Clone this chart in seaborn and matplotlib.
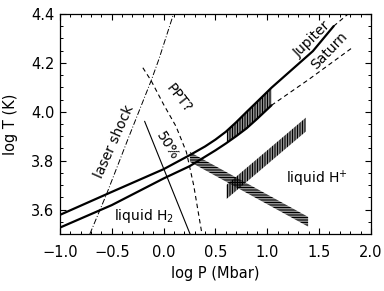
import numpy as np
import matplotlib
matplotlib.use("Agg")
import matplotlib.pyplot as plt
import seaborn as sns

# adiabats (log P [Mbar], log T [K])
jup_p = [-1.0, -0.5, 0.0, 0.25, 0.4, 0.5, 0.6, 0.7, 0.8, 0.9, 1.04, 1.2, 1.44, 1.64]
jup_t = [3.578, 3.672, 3.765, 3.822, 3.858, 3.886, 3.918, 3.957, 3.999, 4.04, 4.098, 4.158, 4.248, 4.35]
jup_ext_p = [1.64, 1.78]
jup_ext_t = [4.35, 4.40]
sat_p = [-1.0, -0.5, 0.0, 0.25, 0.5, 0.6, 0.7, 0.8, 0.9, 1.04]
sat_t = [3.526, 3.618, 3.727, 3.777, 3.842, 3.870, 3.900, 3.932, 3.970, 4.026]
sat_ext_p = [1.04, 1.40, 1.82]
sat_ext_t = [4.026, 4.132, 4.262]

# other boundaries
laser_p = [-0.711, -0.55, -0.34, -0.12, -0.045, 0.096]
laser_t = [3.50, 3.663, 3.892, 4.127, 4.215, 4.40]
ppt_p = [-0.20, -0.12, 0.0, 0.12, 0.22, 0.29, 0.33, 0.37]
ppt_t = [4.18, 4.127, 4.03, 3.94, 3.835, 3.70, 3.60, 3.50]
half_p = [-0.183, 0.255]
half_t = [3.961, 3.50]

# hatched regions
band1_p = [0.61, 0.7, 0.8, 0.9, 1.04]
band1_top = [3.921, 3.957, 3.999, 4.04, 4.098]
band1_bot = [3.873, 3.900, 3.932, 3.970, 4.026]
band2_p = [0.607, 1.372]
band2_top = [3.701, 3.976]
band2_bot = [3.643, 3.919]
band3_p = [0.254, 1.394]
band3_top = [3.835, 3.570]
band3_bot = [3.795, 3.530]

sns.set_style("ticks")
plt.rcParams["font.family"] = ["DejaVu Sans"]
plt.rcParams["text.color"] = "k"
plt.rcParams["axes.labelcolor"] = "k"
plt.rcParams["xtick.color"] = "k"
plt.rcParams["ytick.color"] = "k"
plt.rcParams["axes.edgecolor"] = "k"
plt.rcParams["hatch.linewidth"] = 0.8
plt.rcParams["axes.linewidth"] = 0.9

fig = plt.figure(figsize=(3.84, 2.91), dpi=100)
ax = fig.add_axes([0.156, 0.196, 0.81, 0.756])

def line(x, y, **kw):
    sns.lineplot(x=x, y=y, ax=ax, color="k", sort=False, estimator=None, **kw)

line(jup_p, jup_t, lw=1.6)
line(jup_ext_p, jup_ext_t, lw=0.8, linestyle=(0, (4, 3)))
line(sat_p, sat_t, lw=1.6)
line(sat_ext_p, sat_ext_t, lw=0.8, linestyle=(0, (4, 3)))
line(laser_p, laser_t, lw=0.7, linestyle=(0, (6, 2, 1, 2)))
line(ppt_p, ppt_t, lw=0.8, linestyle=(0, (4, 3)))
line(half_p, half_t, lw=0.8)

ax.fill_between(band1_p, band1_bot, band1_top, facecolor="none", edgecolor="k",
                hatch="|" * 10, linewidth=0)
ax.fill_between(band2_p, band2_bot, band2_top, facecolor="none", edgecolor="k",
                hatch="|" * 10, linewidth=0)
ax.fill_between(band3_p, band3_bot, band3_top, facecolor="none", edgecolor="k",
                hatch="-" * 10, linewidth=0)

ax.text(-0.479, 3.876, "laser shock", rotation=66, ha="center", va="center", fontsize=10)
ax.text(0.15, 4.055, "PPT?", rotation=-52, ha="center", va="center", fontsize=10)
ax.text(0.035, 3.862, "50%", rotation=-58, ha="center", va="center", fontsize=10)
ax.text(1.43, 4.295, "Jupiter", rotation=44, ha="center", va="center", fontsize=10)
ax.text(1.60, 4.25, "Saturn", rotation=46, ha="center", va="center", fontsize=10)
ax.text(-0.19, 3.572, "liquid H$_2$", ha="center", va="center", fontsize=10)
ax.text(1.482, 3.727, "liquid H$^{+}$", ha="center", va="center", fontsize=10)

ax.set_xlim(-1.0, 2.0)
ax.set_ylim(3.5, 4.4)
ax.set_xticks([-1.0, -0.5, 0.0, 0.5, 1.0, 1.5, 2.0])
ax.set_yticks([3.6, 3.8, 4.0, 4.2, 4.4])
ax.set_xticks(np.arange(-1.0, 2.01, 0.1), minor=True)
ax.set_yticks(np.arange(3.5, 4.401, 0.05), minor=True)
ax.tick_params(which="both", direction="in", top=True, right=True, labelsize=10.5)
ax.tick_params(axis="x", which="major", pad=8)
ax.tick_params(axis="y", which="major", pad=4)
ax.tick_params(which="major", length=4.5, width=0.8)
ax.tick_params(which="minor", length=2.5, width=0.7)
ax.set_xlabel("log P (Mbar)", fontsize=10.5, labelpad=4)
ax.set_ylabel("log T (K)", fontsize=10.5, labelpad=9)
for s in ax.spines.values():
    s.set_visible(True)

fig.savefig("out.png", dpi=100)
